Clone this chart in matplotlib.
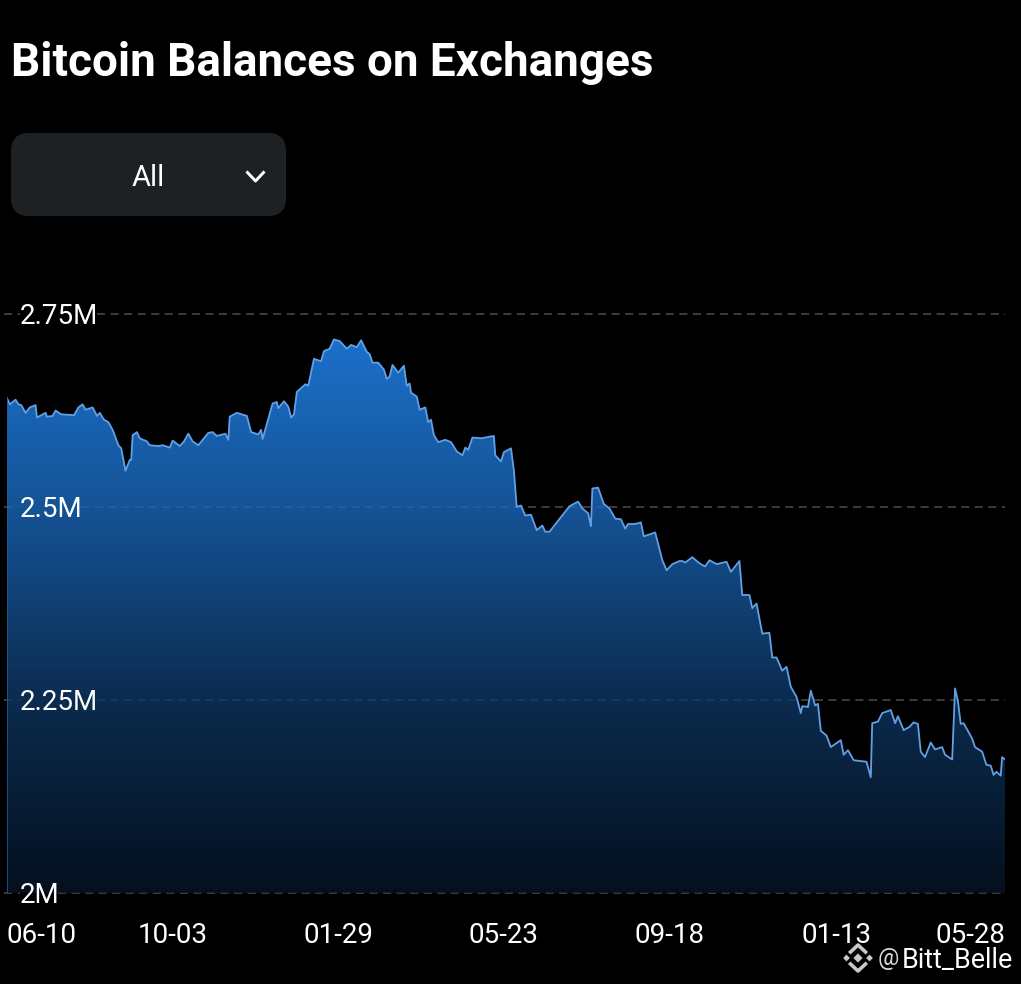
#  Bitcoin balances on exchanges, dark area chart

#%% IMPORT SECTION
import numpy as np
import matplotlib
matplotlib.use('Agg')
import matplotlib.pyplot as plt
from matplotlib.colors import LinearSegmentedColormap
from matplotlib.patches import FancyBboxPatch, Polygon

#%% DATA
# days since the first label, balances in thousands of BTC
days = [0, 2, 6, 8, 10, 13, 16, 20, 21, 25, 27, 28, 32, 34, 38, 47, 50, 53, 55, 60,
        63, 65, 68, 71, 74, 78, 80, 83, 86, 87, 88, 91, 93, 98, 100, 106, 109, 114, 116, 121,
        124, 127, 130, 134, 141, 144, 147, 153, 155, 156, 161, 168, 171, 176, 178, 179, 184, 186, 189, 190,
        194, 197, 199, 201, 203, 206, 209, 211, 215, 218, 220, 222, 226, 229, 233, 235, 238, 241, 245, 248,
        252, 254, 256, 260, 264, 266, 268, 270, 274, 278, 280, 282, 283, 287, 289, 293, 295, 297, 299, 302,
        307, 311, 315, 319, 321, 323, 326, 332, 341, 342, 346, 348, 353, 355, 357, 360, 363, 367, 371, 375,
        377, 380, 388, 394, 400, 403, 407, 409, 410, 414, 418, 422, 426, 430, 433, 435, 440, 444, 446, 454,
        459, 462, 466, 471, 473, 475, 480, 485, 489, 492, 497, 504, 507, 513, 515, 520, 522, 525, 529, 534,
        536, 539, 543, 546, 549, 553, 556, 557, 561, 563, 566, 568, 570, 574, 577, 584, 586, 589, 593, 602,
        605, 606, 610, 613, 619, 622, 624, 628, 632, 635, 638, 640, 643, 647, 650, 655, 657, 662, 664, 666,
        668, 670, 676, 678, 683, 686, 689, 691, 693, 696, 697, 699]
balance = [2641, 2633, 2639, 2633, 2632, 2622, 2629, 2632, 2616, 2620, 2622, 2617, 2618, 2625, 2620, 2619, 2629, 2633, 2626, 2629,
           2618, 2622, 2613, 2610, 2600, 2580, 2576, 2547, 2561, 2561, 2593, 2597, 2589, 2585, 2580, 2579, 2580, 2577, 2586, 2579,
           2585, 2595, 2585, 2580, 2596, 2597, 2592, 2595, 2587, 2617, 2622, 2618, 2597, 2594, 2600, 2588, 2621, 2634, 2636, 2628,
           2637, 2630, 2616, 2620, 2649, 2654, 2659, 2657, 2692, 2690, 2689, 2702, 2705, 2717, 2715, 2711, 2705, 2710, 2707, 2716,
           2701, 2698, 2687, 2687, 2678, 2666, 2669, 2684, 2674, 2683, 2657, 2660, 2648, 2643, 2626, 2629, 2610, 2613, 2593, 2584,
           2587, 2584, 2572, 2567, 2577, 2574, 2590, 2589, 2592, 2567, 2559, 2571, 2576, 2548, 2500, 2502, 2489, 2490, 2470, 2476,
           2468, 2468, 2487, 2501, 2507, 2498, 2492, 2475, 2524, 2525, 2504, 2498, 2485, 2484, 2472, 2478, 2478, 2480, 2462, 2467,
           2431, 2418, 2426, 2430, 2430, 2428, 2435, 2427, 2423, 2431, 2426, 2429, 2416, 2430, 2386, 2386, 2369, 2375, 2336, 2337,
           2305, 2305, 2288, 2293, 2267, 2254, 2233, 2242, 2241, 2262, 2243, 2245, 2210, 2204, 2189, 2198, 2179, 2185, 2172, 2170,
           2150, 2220, 2222, 2233, 2237, 2220, 2229, 2211, 2215, 2221, 2219, 2183, 2176, 2195, 2186, 2189, 2179, 2173, 2265, 2249,
           2219, 2220, 2200, 2189, 2183, 2166, 2165, 2153, 2157, 2152, 2176, 2173]

y_ticks = [2000, 2250, 2500, 2750]
y_labels = ['2M', '2.25M', '2.5M', '2.75M']
x_ticks = [0, 116, 232, 348, 464, 581, 699]
x_labels = ['06-10', '10-03', '01-29', '05-23', '09-18', '01-13', '05-28']

plt.rcParams['font.family'] = ['Roboto', 'DejaVu Sans']

#%% FIGURE
W, H = 1021, 984
fig = plt.figure(figsize=(W / 100, H / 100), dpi=100, facecolor='black')

ax = fig.add_axes([7 / W, (H - 893) / H, 998 / W, 579 / H], facecolor='black')
ax.set_xlim(0, 699)
ax.set_ylim(2000, 2750)

#%% AREA WITH GRADIENT
cmap = LinearSegmentedColormap.from_list('area', ['#04101f', '#0b2a4c', '#145090', '#1b70ca'])
grad = np.linspace(1, 0, 256).reshape(-1, 1)
im = ax.imshow(grad, cmap=cmap, aspect='auto', extent=[0, 699, 2000, 2717], zorder=1)
clip = Polygon(np.vstack([np.column_stack([days, balance]), [[699, 2000], [0, 2000]]]),
               transform=ax.transData, facecolor='none', edgecolor='none')
ax.add_patch(clip)
im.set_clip_path(clip)
ax.set_xlim(0, 699)
ax.set_ylim(2000, 2750)

ax.plot(days, balance, color='#62a0e6', lw=1.3, zorder=3, solid_joinstyle='round')
ax.plot([0, 0], [2000, balance[0]], color='#1c5a9c', lw=1.2, zorder=3)

#%% GRID, the dashes stop behind the labels and barely show through the area
gap_end = [36, 63, 52, 63]
for val, gap in zip(y_ticks, gap_end):
    for start, stop in [(-2, 9), (gap, 699)]:
        ax.plot([start, stop], [val, val], color='#ffffff', alpha=0.2, lw=1.3,
                dashes=(4.5, 3), zorder=0.5, clip_on=False)
        ax.plot([start, stop], [val, val], color='#ffffff', alpha=0.07, lw=1.3,
                dashes=(4.5, 3), zorder=2, clip_on=False)

for val, lab in zip(y_ticks, y_labels):
    ax.text(9, val - 3, lab, color='white', fontsize=20, va='center', ha='left', zorder=5, clip_on=False)

ax.set_yticks([])
ax.set_xticks(x_ticks)
ax.set_xticklabels(x_labels, color='white', fontsize=20)
ax.tick_params(axis='x', length=0, pad=21)
ax.get_xticklabels()[0].set_ha('left')
ax.get_xticklabels()[-1].set_ha('right')
for side in ax.spines.values():
    side.set_visible(False)

#%% OVERLAY: title, dropdown, watermark (pixel coordinates)
top = fig.add_axes([0, 0, 1, 1], facecolor='none')
top.set_xlim(0, W)
top.set_ylim(H, 0)
top.axis('off')

top.text(11, 76, 'Bitcoin Balances on Exchanges', color='white', fontsize=33,
         fontweight='bold', va='baseline', ha='left')

top.add_patch(FancyBboxPatch((29, 151), 239, 47, boxstyle='round,pad=18,rounding_size=18', linewidth=0,
                             facecolor='#1e2124'))
top.text(148, 178, 'All', color='white', fontsize=21, va='center', ha='center')
top.plot([247.5, 255.5, 263.5], [172.5, 181, 172.5], color='white', lw=2.1)

# exchange logo
logo = '#c9c9c9'
cx, cy = 858, 958
top.scatter([cx, cx - 11.5, cx + 11.5], [cy, cy, cy], marker='D', s=[22, 12, 12], color=logo, linewidths=0)
top.plot([cx - 7.5, cx, cx + 7.5], [cy - 6, cy - 13, cy - 6], color=logo, lw=2.6)
top.plot([cx - 7.5, cx, cx + 7.5], [cy + 6, cy + 13, cy + 6], color=logo, lw=2.6)
top.text(878, 959, '@', color='#d8d8d8', fontsize=17, va='center', ha='left')
top.text(902, 960, 'Bitt_Belle', color='white', fontsize=19.4, va='center', ha='left')

fig.savefig('out.png', dpi=100, facecolor='black')
